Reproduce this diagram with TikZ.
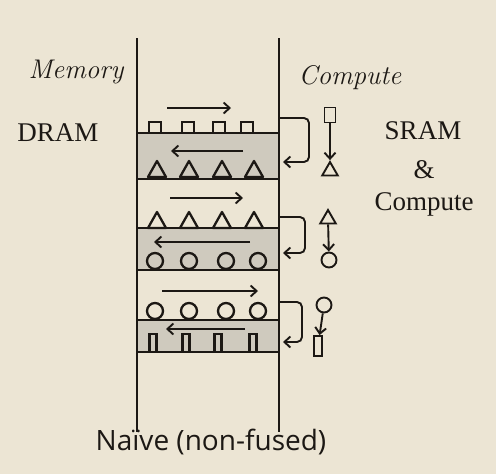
\documentclass[tikz,border=0pt]{standalone}
\usepackage{fontspec}
\usepackage{tikz}
\usetikzlibrary{arrows.meta,shapes.geometric}
\newfontfamily\capfont{Open Sans}
\newfontfamily\bookfont{Liberation Serif}
\definecolor{paper}{RGB}{236,229,212}
\definecolor{band}{RGB}{207,202,190}
\definecolor{ink}{RGB}{28,24,20}

\begin{document}
\begin{tikzpicture}[x=1pt,y=-1pt,line width=2.3pt,color=ink,
  flow/.style={-{Straight Barb[length=6pt,width=11pt]},line width=1.9pt},
  icon/.style={draw,inner sep=0pt,line width=1.9pt},
  hand/.style={font=\fontsize{27}{29}\selectfont\itshape},
  serif/.style={font=\bookfont\fontsize{27}{29}\selectfont}]
\newcommand{\squarerow}[1]{%
  \foreach \x in {155,188,219,247}
    \draw (\x-6,#1) -- (\x-6,#1-11) -- (\x+6,#1-11) -- (\x+6,#1);}
\newcommand{\trianglerow}[1]{%
  \foreach \x in {157,189,222,254}
    \draw[line join=round] (\x-9,#1) -- (\x,#1-16) -- (\x+9,#1) -- cycle;}
\newcommand{\circlerow}[1]{%
  \foreach \x in {155,189,226,258}
    \draw (\x,#1-8) circle (8pt);}
\newcommand{\barrow}[1]{%
  \foreach \x in {153,186,218,253}
    \draw (\x-3.5,#1) -- (\x-3.5,#1-18) -- (\x+3.5,#1-18) -- (\x+3.5,#1);}

% paper and memory column
\fill[paper] (0,0) rectangle (496,474);
\foreach \a/\b in {133/179,228/270,320/352}
  \fill[band] (137,\a) rectangle (279,\b);
\foreach \y in {133,179,228,270,320,352}
  \draw (137,\y) -- (279,\y);
\draw (137,38) -- (137,432);
\draw (279,38) -- (279,432);

% tiles moving in and out of DRAM
\squarerow{133}
\trianglerow{177}
\trianglerow{228}
\circlerow{269}
\circlerow{319}
\barrow{352}

\draw[flow] (167,108) -- (231,108);
\draw[flow] (243,151) -- (171,151);
\draw[flow] (170,198) -- (243,198);
\draw[flow] (250,242) -- (154,242);
\draw[flow] (162,291) -- (258,291);
\draw[flow] (245,329) -- (166,329);

% round trips through compute
\draw[flow,rounded corners=5pt] (279,118) -- (309,118) -- (309,162) -- (283,162);
\draw[flow,rounded corners=5pt] (279,217) -- (305,217) -- (305,253) -- (283,253);
\draw[flow,rounded corners=5pt] (279,302) -- (302,302) -- (302,342) -- (283,342);

% compute column
\node[icon,rectangle,minimum width=11pt,minimum height=15pt] (sq) at (330,115) {};
\node[icon,regular polygon,regular polygon sides=3,minimum size=18pt] (tr1) at (330,171) {};
\node[icon,regular polygon,regular polygon sides=3,minimum size=18pt] (tr2) at (328,219) {};
\node[icon,circle,minimum size=15pt] (ci2) at (329,260) {};
\node[icon,circle,minimum size=15pt] (ci3) at (324,305) {};
\node[icon,rectangle,minimum width=8pt,minimum height=20pt] (ba) at (318,346) {};
\draw[flow] (sq) -- (tr1);
\draw[flow] (tr2) -- (ci2);
\draw[flow] (ci3) -- (ba);

% labels
\node[hand] (mem) at (76,72) {Memory};
\node[hand] (cmp) at (350,78) {Compute};
\node[serif] (dram) at (58,133) {DRAM};
\node[serif] (sram) at (423,131) {SRAM};
\node[serif] (amp) at (424,170) {\&};
\node[serif] (cpu) at (424,204) {Compute};
\node[font=\capfont\fontsize{28}{30}\selectfont] (title) at (211,442) {Naïve (non-fused)};
\end{tikzpicture}
\end{document}
